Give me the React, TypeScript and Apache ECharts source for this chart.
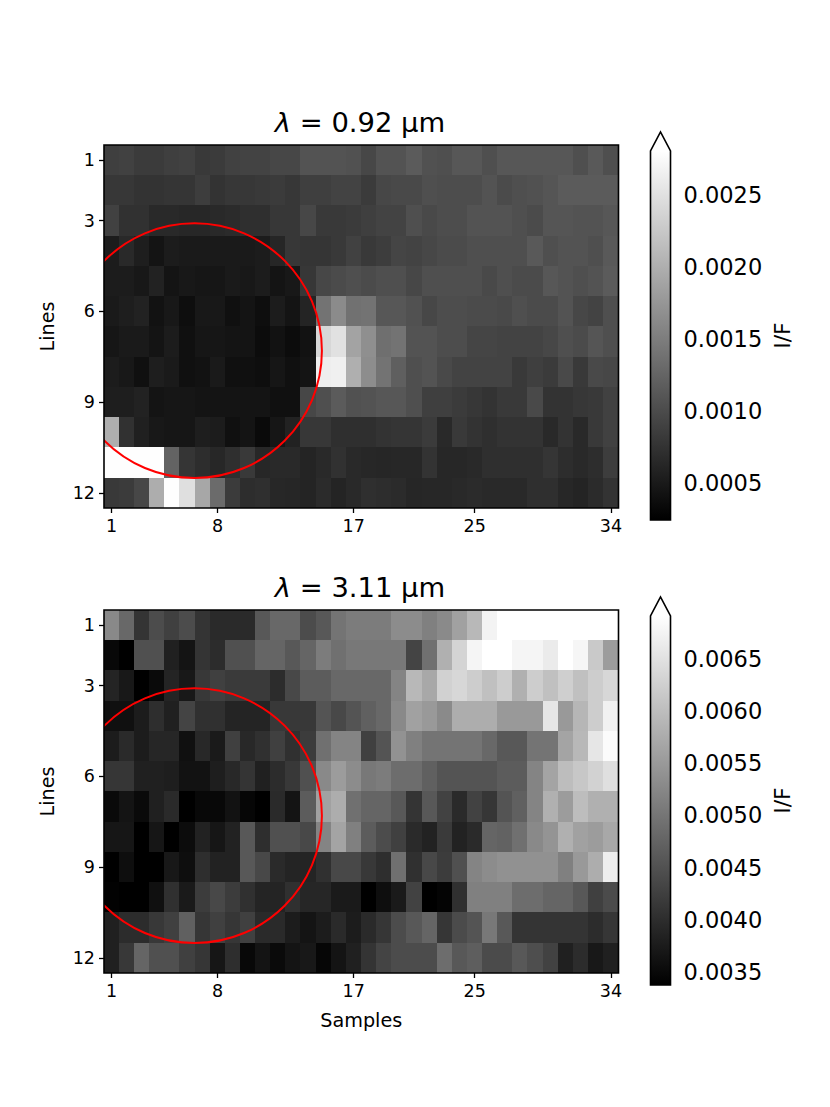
import React, { useEffect, useRef } from "react";
import * as echarts from "echarts";

const samples = Array.from({ length: 34 }, (_, i) => String(i + 1));
const lines = Array.from({ length: 12 }, (_, i) => String(i + 1));
const sampleTicks = ["1", "8", "17", "25", "34"];
const lineTicks = ["1", "3", "6", "9", "12"];

// I/F in units of 1e-5, one row per line
const if092: number[][] = [
  [88,90,84,84,88,90,82,84,90,92,92,96,96,108,108,108,106,96,108,108,116,106,104,112,112,104,112,112,112,112,112,104,114,104],
  [80,80,76,76,78,78,86,76,80,80,82,84,80,88,88,92,92,84,96,98,98,104,102,102,102,108,100,104,106,110,116,116,116,116],
  [90,74,74,66,66,64,64,66,68,72,72,80,80,96,82,82,84,88,92,92,104,98,102,102,108,108,108,104,100,110,110,108,108,112],
  [52,66,54,44,52,50,50,50,50,50,52,62,80,78,78,82,90,82,86,94,92,96,100,100,104,104,104,104,114,104,108,108,104,114],
  [52,52,48,58,44,48,46,46,50,48,52,44,48,80,96,100,104,100,104,104,96,104,104,104,104,98,104,100,100,112,108,104,108,116],
  [50,54,58,42,48,38,48,48,40,44,38,52,44,60,140,164,138,140,112,112,106,96,102,102,100,100,98,104,100,100,108,96,92,104],
  [46,50,50,44,52,40,46,46,44,44,36,42,36,42,240,250,188,168,136,140,108,108,102,102,94,94,92,92,92,96,104,100,110,104],
  [52,48,40,54,50,40,42,50,40,40,38,46,40,44,264,266,200,166,140,120,104,108,98,92,92,92,92,82,88,84,98,82,98,96],
  [54,54,58,44,46,46,44,44,44,44,44,40,40,96,104,116,106,108,112,112,104,88,88,84,80,76,82,82,98,76,76,80,82,90],
  [200,74,56,48,46,46,54,52,40,44,34,46,58,80,80,72,72,72,76,78,78,84,66,82,76,72,76,76,76,66,76,66,82,90],
  [280,280,280,280,124,78,70,64,72,82,64,66,66,60,66,74,66,64,62,64,64,76,64,64,66,72,72,72,72,78,70,66,70,86],
  [82,84,96,198,280,248,192,132,84,70,72,64,62,60,68,60,66,72,70,68,62,64,64,66,68,66,66,66,72,72,64,60,68,76],
];

const if311: number[][] = [
  [527,482,410,443,426,443,410,396,396,396,460,482,482,443,460,499,510,510,510,532,532,515,529,560,593,674,692,692,692,692,692,692,692,692],
  [349,338,449,449,382,365,410,399,449,449,477,477,460,477,510,493,504,504,504,504,432,493,582,632,677,692,692,677,677,663,692,679,616,554],
  [388,371,338,351,388,371,415,426,418,418,418,399,438,465,465,482,482,482,482,521,593,571,627,635,621,604,621,582,621,604,624,604,621,635],
  [360,360,376,401,382,432,404,404,388,388,388,415,415,415,454,438,454,471,482,527,560,549,529,577,577,577,549,549,549,657,549,590,621,671],
  [376,396,376,390,390,360,393,374,426,393,404,426,404,421,493,521,521,426,454,540,515,499,499,499,499,482,460,460,499,499,565,593,657,685],
  [413,413,382,382,379,363,363,379,393,410,382,399,415,449,527,554,532,504,510,488,488,471,454,454,454,454,465,465,521,565,599,613,629,646],
  [351,365,351,382,396,338,349,349,363,346,338,396,365,465,560,577,493,477,477,460,410,460,429,396,429,413,454,471,521,582,554,599,582,582],
  [368,368,338,368,338,354,385,368,385,460,401,449,449,438,521,565,515,465,443,426,396,385,418,385,396,477,474,493,527,543,582,560,554,571],
  [338,357,338,338,371,357,401,385,385,460,438,396,388,388,404,438,438,415,401,493,404,438,421,449,521,532,538,538,538,538,515,549,577,668],
  [340,338,338,360,404,374,421,438,421,404,388,388,404,390,390,374,374,338,357,374,429,338,343,404,515,515,515,488,488,477,477,460,426,441],
  [382,399,399,415,426,471,413,426,413,426,396,396,376,365,376,396,376,396,413,443,460,477,413,441,454,504,460,410,410,410,410,410,399,413],
  [382,415,477,449,449,426,413,368,401,349,365,351,365,371,346,365,382,410,432,443,443,443,488,460,468,441,441,460,445,429,382,399,371,382],
];

const titles = ["0.92", "3.11"];
const range092 = [0.000243, 0.002806];
const range311 = [0.003375, 0.00691];
const ticks092 = [0.0005, 0.001, 0.0015, 0.002, 0.0025];
const ticks311 = [0.0035, 0.004, 0.0045, 0.005, 0.0055, 0.006, 0.0065];
const circleCenter = [6.48, 7.3];
const circleRadius = [8.42, 4.21];

const FONT = "DejaVu Sans";

function toCells(rows: number[][]) {
  const out: number[][] = [];
  rows.forEach((row, y) => row.forEach((v, x) => out.push([x, y, v / 100000])));
  return out;
}

const tickStyle = { show: true, length: 5, lineStyle: { color: "#000", width: 1.3 } };

function catX(grid: number, name: string) {
  return {
    type: "category", gridIndex: grid, data: samples, position: "bottom",
    name, nameLocation: "middle", nameGap: 38,
    nameTextStyle: { fontFamily: FONT, fontSize: 19.2, color: "#000" },
    axisLine: { show: false },
    splitLine: { show: false },
    axisTick: { ...tickStyle, alignWithLabel: true, interval: (_: number, v: string) => sampleTicks.includes(v) },
    axisLabel: { interval: (_: number, v: string) => sampleTicks.includes(v), fontFamily: FONT, fontSize: 17.5, color: "#000", margin: 9 },
  };
}
function catY(grid: number) {
  return {
    type: "category", gridIndex: grid, data: lines, inverse: true,
    name: "Lines", nameLocation: "middle", nameGap: 47, nameRotate: 90,
    nameTextStyle: { fontFamily: FONT, fontSize: 19.2, color: "#000" },
    axisLine: { show: false },
    splitLine: { show: false },
    axisTick: { ...tickStyle, alignWithLabel: true, interval: (_: number, v: string) => lineTicks.includes(v) },
    axisLabel: { interval: (_: number, v: string) => lineTicks.includes(v), fontFamily: FONT, fontSize: 17.5, color: "#000", margin: 9 },
  };
}
function hiddenX(grid: number, min: number, max: number) {
  return { type: "value", gridIndex: grid, min, max, show: false, splitLine: { show: false } };
}
function hiddenY(grid: number, min: number, max: number, inverse: boolean) {
  return { type: "value", gridIndex: grid, min, max, inverse, show: false, splitLine: { show: false } };
}
function cbY(grid: number, range: number[], ticks: number[]) {
  return {
    type: "value", gridIndex: grid, position: "right", min: range[0], max: range[1],
    name: "I/F", nameLocation: "middle", nameRotate: 90, nameGap: 101,
    nameTextStyle: { fontFamily: FONT, fontSize: 22, color: "#000" },
    axisLine: { show: false },
    splitLine: { show: false },
    axisTick: { ...tickStyle, customValues: ticks },
    axisLabel: {
      customValues: ticks, fontFamily: FONT, fontSize: 22.5, color: "#000", margin: 13,
      formatter: (v: number) => v.toFixed(4),
    },
  };
}

function circleSeries(xi: number, yi: number) {
  return {
    type: "custom", xAxisIndex: xi, yAxisIndex: yi, clip: true, z: 5, silent: true,
    data: [[circleCenter[0], circleCenter[1], circleRadius[0], circleRadius[1]]],
    renderItem: (_: any, api: any) => {
      const c = api.coord([api.value(0), api.value(1)]);
      const e = api.coord([api.value(0) + api.value(2), api.value(1) + api.value(3)]);
      return {
        type: "ellipse",
        shape: { cx: c[0], cy: c[1], rx: Math.abs(e[0] - c[0]), ry: Math.abs(e[1] - c[1]) },
        style: { fill: "none", stroke: "#ff0000", lineWidth: 2 },
      };
    },
  };
}

function colorbarSeries(xi: number, yi: number, range: number[]) {
  return {
    type: "custom", xAxisIndex: xi, yAxisIndex: yi, clip: false, z: 5, silent: true,
    data: [[0, range[0], 1, range[1]]],
    renderItem: (_: any, api: any) => {
      const a = api.coord([api.value(0), api.value(1)]);
      const b = api.coord([api.value(2), api.value(3)]);
      const tip = b[1] - 19;
      const mid = (a[0] + b[0]) / 2;
      return {
        type: "group",
        children: [
          {
            type: "polygon",
            shape: { points: [[a[0], b[1]], [mid, tip], [b[0], b[1]]] },
            style: { fill: "#fff", stroke: "none" },
          },
          {
            type: "rect",
            shape: { x: a[0], y: b[1], width: b[0] - a[0], height: a[1] - b[1] },
            style: {
              stroke: "none",
              fill: new echarts.graphic.LinearGradient(0, 0, 0, 1, [
                { offset: 0, color: "#fff" },
                { offset: 1, color: "#000" },
              ]),
            },
          },
          {
            type: "polygon",
            shape: { points: [[a[0], a[1]], [a[0], b[1]], [mid, tip], [b[0], b[1]], [b[0], a[1]]] },
            style: { fill: "none", stroke: "#000", lineWidth: 1.6 },
          },
        ],
      };
    },
  };
}

function title(text: string, top: number) {
  return {
    text: `{i|λ} = ${text} µm`,
    left: 355, top, textAlign: "center",
    textStyle: {
      fontFamily: FONT, fontSize: 27.4, fontWeight: "normal", color: "#000",
      rich: { i: { fontFamily: FONT, fontStyle: "italic", fontSize: 27.4, color: "#000" } },
    },
  };
}

export default function App() {
  const ref = useRef<HTMLDivElement>(null);
  useEffect(() => {
    const chart = echarts.init(ref.current!, undefined, { renderer: "svg" });
    const frame = { show: true, z: 10, backgroundColor: "transparent", borderColor: "#000", borderWidth: 1.6 };
    chart.setOption({
      animation: false,
      backgroundColor: "#fff",
      title: [title(titles[0], 104), title(titles[1], 569)],
      grid: [
        { left: 104, top: 145, width: 514.5, height: 363, ...frame },
        { left: 104, top: 610, width: 514.5, height: 363, ...frame },
        { left: 650.5, top: 151, width: 20, height: 369, show: false },
        { left: 650.5, top: 616, width: 20, height: 369, show: false },
      ],
      xAxis: [
        catX(0, ""), catX(1, "Samples"),
        hiddenX(0, 0.5, 34.5), hiddenX(1, 0.5, 34.5),
        hiddenX(2, 0, 1), hiddenX(3, 0, 1),
      ],
      yAxis: [
        catY(0), catY(1),
        hiddenY(0, 0.5, 12.5, true), hiddenY(1, 0.5, 12.5, true),
        cbY(2, range092, ticks092), cbY(3, range311, ticks311),
      ],
      visualMap: [
        { show: false, seriesIndex: 0, dimension: 2, min: range092[0], max: range092[1], inRange: { color: ["#000000", "#ffffff"] } },
        { show: false, seriesIndex: 1, dimension: 2, min: range311[0], max: range311[1], inRange: { color: ["#000000", "#ffffff"] } },
      ],
      series: [
        { type: "heatmap", xAxisIndex: 0, yAxisIndex: 0, data: toCells(if092), progressive: 0, silent: true },
        { type: "heatmap", xAxisIndex: 1, yAxisIndex: 1, data: toCells(if311), progressive: 0, silent: true },
        circleSeries(2, 2),
        circleSeries(3, 3),
        colorbarSeries(4, 4, range092),
        colorbarSeries(5, 5, range311),
      ],
    });
    return () => chart.dispose();
  }, []);
  return (
    <>
      <style>{`.hm svg path:not([fill="none"]) { shape-rendering: crispEdges; }`}</style>
      <div className="hm" ref={ref} style={{ position: "absolute", left: 0, top: 0, width: 830, height: 1107 }} />
    </>
  );
}
